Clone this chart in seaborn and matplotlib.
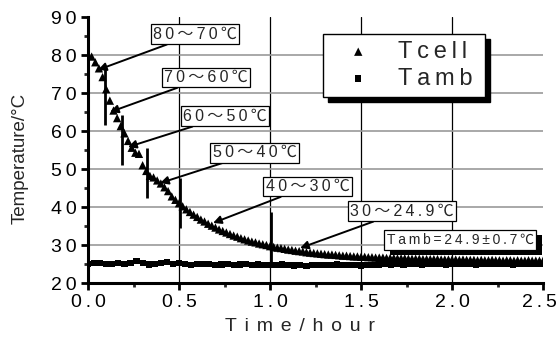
import numpy as np
import pandas as pd
import matplotlib
matplotlib.use("Agg")
import matplotlib.pyplot as plt
import matplotlib.transforms as mtransforms
from matplotlib.patches import Rectangle
from matplotlib.ticker import MultipleLocator
import seaborn as sns

# Cell temperature during cool-down (deg C), sampled every 0.02 h from 0.02 h
tcell_values = [
    79.6, 78.1, 76.5, 74.2, 71.0, 68.0, 65.4, 63.4, 61.3, 59.4,
    57.4, 55.6, 54.3, 54.0, 51.0, 49.5, 48.2, 47.8, 47.0, 46.2,
    45.2, 44.2, 42.8, 41.9, 41.0, 40.2, 39.4, 38.7, 38.0, 37.4,
    36.7, 36.2, 35.6, 35.1, 34.6, 34.1, 33.7, 33.3, 32.9, 32.5,
    32.2, 31.8, 31.5, 31.2, 30.9, 30.7, 30.4, 30.2, 30.0, 29.7,
    29.5, 29.3, 29.2, 29.0, 28.8, 28.7, 28.5, 28.4, 28.3, 28.1,
    28.0, 27.9, 27.8, 27.7, 27.6, 27.5, 27.5, 27.4, 27.3, 27.2,
    27.2, 27.1, 27.0, 27.0, 26.9, 26.9, 26.8, 26.8, 26.7, 26.7,
    26.7, 26.6, 26.6, 26.6, 26.5, 26.5, 26.5, 26.4, 26.4, 26.4,
    26.4, 26.3, 26.3, 26.3, 26.3, 26.3, 26.2, 26.2, 26.2, 26.2,
    26.2, 26.1, 26.2, 26.1, 26.1, 26.1, 26.0, 26.1, 26.0, 26.0,
    26.1, 26.0, 26.0, 25.9, 26.0, 26.0, 25.9, 26.0, 25.9, 25.9,
    26.0, 25.9, 25.9, 25.9, 25.9,
]

# Ambient temperature (deg C), sampled every 2 minutes from 0 h
tamb_values = [
    25.1, 25.2, 25.2, 25.1, 25.1, 25.3, 25.0, 25.3, 25.7, 25.3,
    24.9, 25.1, 25.3, 25.6, 25.1, 25.2, 25.0, 24.8, 25.1, 25.1,
    25.0, 24.8, 24.9, 25.1, 24.8, 24.9, 25.1, 24.8, 24.9, 24.8,
    24.8, 24.8, 24.9, 24.8, 24.6, 24.8, 24.4, 24.7, 24.8, 24.8,
    24.8, 24.9, 24.7, 24.8, 24.7, 24.6, 24.8, 24.8, 24.9, 25.0,
    24.9, 25.0, 24.9, 25.0, 25.0, 24.9, 25.0, 25.1, 25.0, 24.9,
    25.0, 25.0, 25.1, 25.0, 24.9, 25.0, 25.0, 25.1, 25.0, 25.0,
    24.9, 25.0, 25.0, 25.1, 25.0, 25.0,
]

tcell_hours = np.linspace(0.02, 2.50, len(tcell_values))
tamb_hours = np.linspace(0.0, 2.50, len(tamb_values))

# Vertical bars marking each 10-degree cooling stage
stage_hours = [0.093, 0.187, 0.324, 0.505, 1.003]
stage_low = [61.6, 51.0, 42.4, 34.5, 25.3]
stage_high = [76.6, 64.2, 55.5, 47.6, 38.8]

stage_labels = ["80～70℃", "70～60℃", "60～50℃", "50～40℃", "40～30℃", "30～24.9℃"]
stage_label_xy = [(0.588, 85.5), (0.648, 74.1), (0.753, 63.9),
                  (0.915, 54.3), (1.206, 45.4), (1.725, 38.9)]
stage_arrow_xy = [(0.055, 76.1), (0.121, 65.0), (0.220, 55.8),
                  (0.396, 46.3), (0.687, 35.8), (1.165, 29.2)]

amb_note = "Tamb=24.9±0.7℃"
amb_note_xy = (2.044, 31.3)

x_ticks = [0.0, 0.5, 1.0, 1.5, 2.0, 2.5]
y_ticks = [20, 30, 40, 50, 60, 70, 80, 90]

THIN = "\u2009"


def spaced(text, gap=THIN):
    return gap.join(text)


sns.set_theme(style="white")
plt.rcParams["font.family"] = ["Liberation Sans", "Noto Sans CJK JP", "DejaVu Sans"]

df_cell = pd.DataFrame({"hour": tcell_hours, "temp": tcell_values})
df_amb = pd.DataFrame({"hour": tamb_hours, "temp": tamb_values})

fig = plt.figure(figsize=(5.57, 3.41), dpi=100)
ax = fig.add_axes([0.158, 0.170, 0.817, 0.780])

# grid: black verticals, gray horizontals
for xv in x_ticks:
    if x_ticks[0] < xv < x_ticks[-1]:
        ax.axvline(xv, color="black", lw=0.9, zorder=1)
for yv in y_ticks:
    if y_ticks[0] < yv < y_ticks[-1]:
        ax.axhline(yv, color="#999999", lw=1.2, zorder=1)

ax.vlines(stage_hours, stage_low, stage_high, color="black", lw=2.0, zorder=3)

sns.scatterplot(data=df_cell, x="hour", y="temp", marker="^", s=36, color="black",
                edgecolor="none", ax=ax, zorder=4, label=spaced("Tcell") + THIN)
sns.scatterplot(data=df_amb, x="hour", y="temp", marker="s", s=20, color="black",
                edgecolor="none", ax=ax, zorder=4, label=spaced("Tamb") + THIN)

ax.set_xlim(x_ticks[0], x_ticks[-1])
ax.set_ylim(y_ticks[0], y_ticks[-1])
ax.set_xticks(x_ticks)
ax.set_yticks(y_ticks)
ax.set_xticklabels([spaced(f"{v:.1f}") for v in x_ticks])
ax.set_yticklabels([spaced(str(v)) for v in y_ticks])
ax.xaxis.set_minor_locator(MultipleLocator(0.25))
ax.yaxis.set_minor_locator(MultipleLocator(5))
ax.tick_params(axis="both", which="major", direction="out", length=5, width=2,
               labelsize=14, colors="black", pad=3, bottom=True, left=True)
ax.tick_params(axis="both", which="minor", direction="out", length=3, width=2,
               bottom=True, left=True)

# keep the last x label inside the canvas
last = ax.get_xticklabels()[-1]
last.set_transform(last.get_transform() +
                   mtransforms.ScaledTranslation(-4 / 100, 0, fig.dpi_scale_trans))

for side in ["top", "right"]:
    ax.spines[side].set_visible(False)
for side in ["left", "bottom"]:
    ax.spines[side].set_color("black")
    ax.spines[side].set_linewidth(2.2)

ax.set_xlabel(spaced("Time/hour", THIN * 2), fontsize=14, labelpad=2)
ax.set_ylabel("Temperature/°C", fontsize=13.5, labelpad=6)
ax.xaxis.set_label_coords(0.465, -0.13)
ax.yaxis.set_label_coords(-0.13, 0.47)

box = dict(boxstyle="square,pad=0.15", fc="white", ec="black", lw=0.9)
for text, lxy, axy in zip(stage_labels, stage_label_xy, stage_arrow_xy):
    ax.annotate(spaced(text), xy=axy, xytext=lxy, ha="center", va="center",
                fontsize=11.5, bbox=box, zorder=6,
                arrowprops=dict(arrowstyle="-|>", color="black", lw=1.4,
                                mutation_scale=12, shrinkA=0, shrinkB=0))

# ambient note with a solid drop shadow behind its box
note_box = dict(boxstyle="square,pad=0.2", fc="white", ec="black", lw=0.9)
note = ax.text(*amb_note_xy, spaced(amb_note), ha="center", va="center",
               fontsize=10, bbox=note_box, zorder=7)

leg = ax.legend(loc="upper left", bbox_to_anchor=(0.516, 0.937), fontsize=17,
                frameon=True, fancybox=False, edgecolor="black", framealpha=1,
                shadow={"color": "black", "alpha": 1, "ox": 4, "oy": -4},
                handletextpad=0.5, handlelength=2.4, borderpad=0.3, labelspacing=0.2,
                markerscale=1.0, borderaxespad=0)
leg.get_frame().set_linewidth(1.0)
leg.set_zorder(8)

fig.canvas.draw()
bb = note.get_bbox_patch().get_window_extent()
ax.add_artist(Rectangle((bb.x0 + 6, bb.y0 - 5), bb.width, bb.height,
                        transform=None, facecolor="black", edgecolor="none",
                        zorder=6.5))

fig.savefig("out.png", dpi=100, facecolor="white")
